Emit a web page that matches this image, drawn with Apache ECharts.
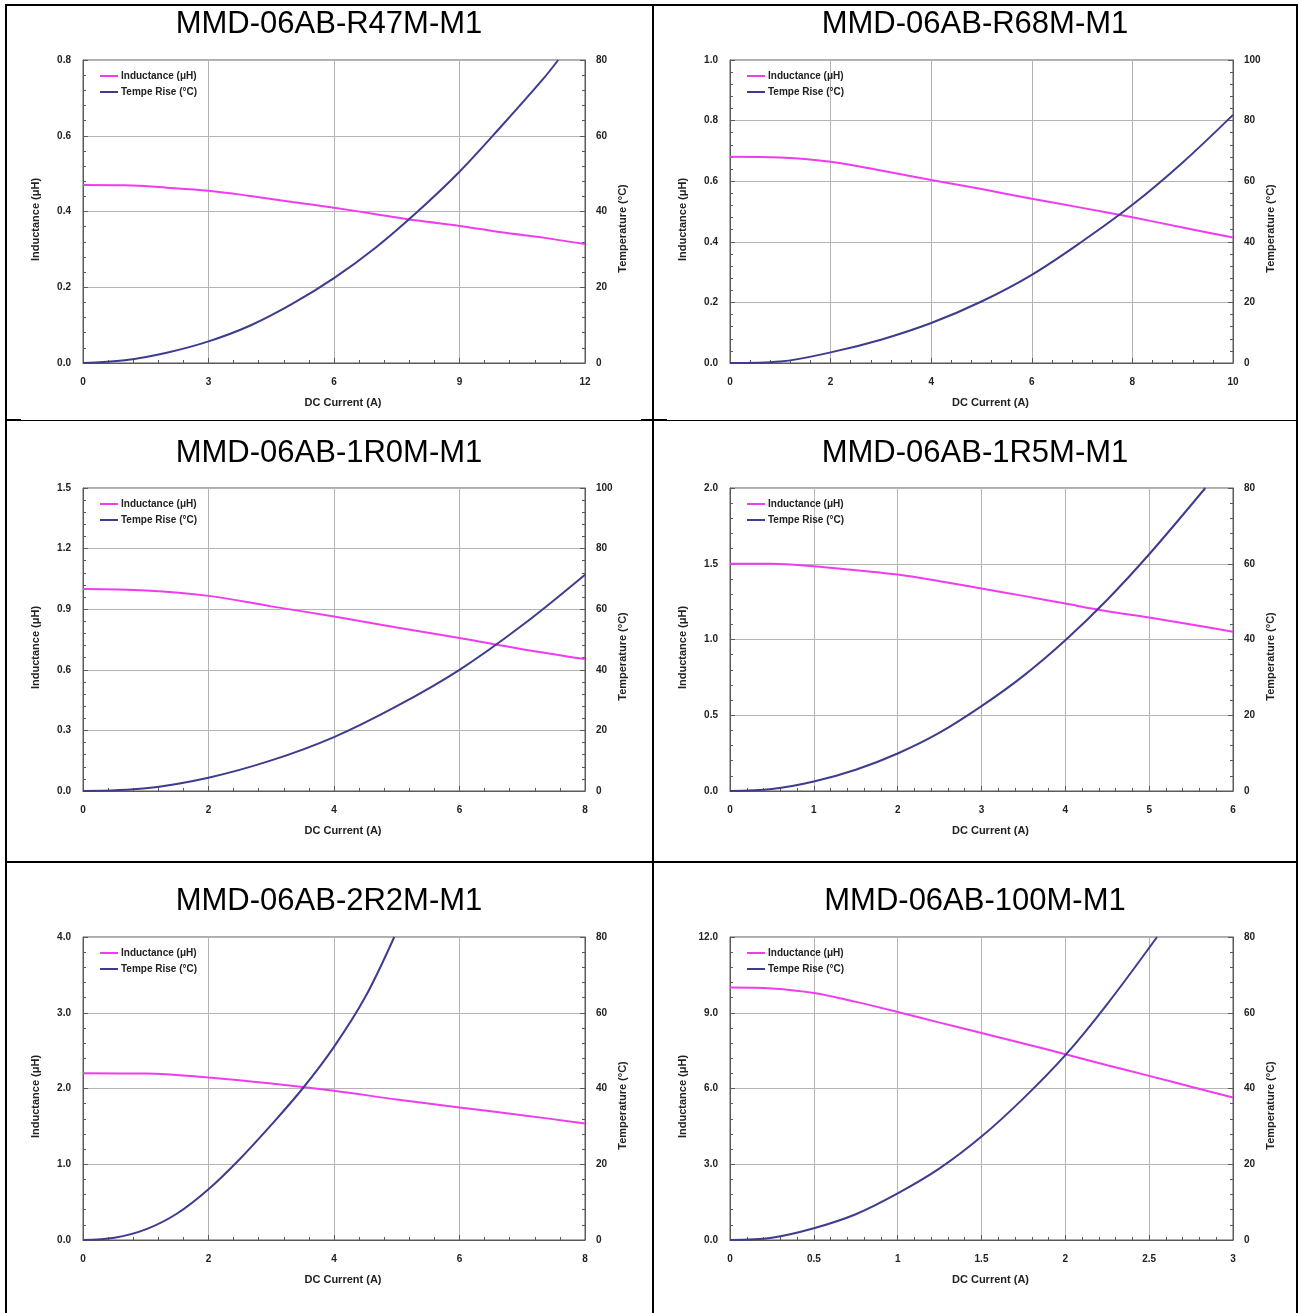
<!DOCTYPE html>
<html><head><meta charset="utf-8">
<script src="https://cdn.jsdelivr.net/npm/echarts@6/dist/echarts.min.js"></script>
<style>html,body{margin:0;padding:0;background:#fff}#c{width:1299px;height:1313px}</style>
</head><body><div id="c"></div>
<script>
// ---------- data ----------
const r47Current      = [0,1,2,3,4,5,6,7,8,9,10,11,12];
const r47Inductance   = [0.470,0.469,0.463,0.455,0.441,0.425,0.410,0.393,0.376,0.362,0.345,0.331,0.314];
const r47TempCurrent  = [0,1,2,3,4,5,6,7,8,9,10,11,11.36];
const r47Temp         = [0,0.7,2.7,5.7,9.9,15.6,22.4,30.5,40.0,50.5,62.5,75.0,80];

const r68Current      = [0,1,2,3,4,5,6,7,8,9,10];
const r68Inductance   = [0.681,0.678,0.664,0.635,0.604,0.574,0.542,0.512,0.481,0.447,0.414];
const r68TempCurrent  = [0,1,2,3,4,5,6,7,8,9,10];
const r68Temp         = [0,0.5,3.5,7.7,13.2,20.3,29.1,40.1,52.2,66.2,81.9];

const p1r0Current     = [0,1,2,3,4,5,6,7,8];
const p1r0Inductance  = [1.000,0.993,0.966,0.914,0.864,0.809,0.757,0.702,0.653];
const p1r0TempCurrent = [0,1,2,3,4,5,6,7,8];
const p1r0Temp        = [0,0.9,4.4,10.1,17.8,28.0,40.0,54.7,71.4];

const p1r5Current     = [0,0.5,1,1.5,2,2.5,3,3.5,4,4.5,5,5.5,6];
const p1r5Inductance  = [1.500,1.500,1.483,1.457,1.429,1.385,1.336,1.288,1.237,1.187,1.145,1.099,1.051];
const p1r5TempCurrent = [0,0.5,1,1.5,2,2.5,3,3.5,4,4.5,5,5.67];
const p1r5Temp        = [0,0.5,2.5,5.6,9.9,15.4,22.4,30.4,39.8,50.5,62.5,80];

const p2r2Current     = [0,1,2,3,4,5,6,7,8];
const p2r2Inductance  = [2.200,2.198,2.145,2.066,1.969,1.855,1.749,1.648,1.538];
const p2r2TempCurrent = [0,0.5,1,1.5,2,2.5,3,3.5,4,4.5,4.96];
const p2r2Temp        = [0,0.6,2.8,7.0,13.4,21.4,30.4,40.0,51.0,64.2,80];

const p100Current     = [0,0.25,0.5,0.75,1,1.25,1.5,1.75,2,2.25,2.5,2.75,3];
const p100Inductance  = [10.0,9.96,9.78,9.43,9.03,8.61,8.20,7.78,7.36,6.92,6.50,6.07,5.64];
const p100TempCurrent = [0,0.25,0.5,0.75,1,1.25,1.5,1.75,2,2.25,2.547];
const p100Temp        = [0,0.6,3.1,6.8,12.3,18.9,27.3,37.4,48.8,62.3,80];

const panelTitles = ['MMD-06AB-R47M-M1','MMD-06AB-R68M-M1','MMD-06AB-1R0M-M1','MMD-06AB-1R5M-M1','MMD-06AB-2R2M-M1','MMD-06AB-100M-M1'];
const xMaxes   = [12,10,8,6,8,3];
const xSteps   = [3,2,2,1,2,0.5];
const indMaxes = [0.8,1.0,1.5,2.0,4.0,12.0];
const indSteps = [0.2,0.2,0.3,0.5,1.0,3.0];
const tempMaxes= [80,100,100,80,80,80];
const tempSteps= [20,20,20,20,20,20];

const seriesNames = ['Inductance (\u03bcH)','Tempe Rise (\u00b0C)'];
const xName = 'DC Current (A)';
const yLeftName = 'Inductance (\u03bcH)';
const yRightName = 'Temperature (\u00b0C)';

const curData = [
  [r47Current, r47Inductance, r47TempCurrent, r47Temp],
  [r68Current, r68Inductance, r68TempCurrent, r68Temp],
  [p1r0Current, p1r0Inductance, p1r0TempCurrent, p1r0Temp],
  [p1r5Current, p1r5Inductance, p1r5TempCurrent, p1r5Temp],
  [p2r2Current, p2r2Inductance, p2r2TempCurrent, p2r2Temp],
  [p100Current, p100Inductance, p100TempCurrent, p100Temp]
];

// ---------- layout / style ----------
const FONT = "'Liberation Sans', Arial, sans-serif";
const IND_COLOR = '#f03cf0';
const TMP_COLOR = '#3e3c8e';
const AX_COLOR = '#5a5a5a';
const GRID_COLOR = '#b4b4b4';
const COLS = [{left:83, width:502, center:329}, {left:730, width:503, center:975}];
const ROWS = [{top:60, title:24}, {top:488, title:453}, {top:937, title:901}];
const PH = 303;

const zip = (a,b) => a.map((v,i)=>[v,b[i]]);
const labelStyle = {color:'#222', fontWeight:'bold', fontSize:10, fontFamily:FONT};
const nameStyle = {color:'#222', fontWeight:'bold', fontSize:11, fontFamily:FONT};

const option = {animation:false, backgroundColor:'#fff', title:[], legend:[], grid:[], xAxis:[], yAxis:[], series:[], graphic:[]};

panelTitles.forEach((t,i)=>{
  const c = COLS[i%2], r = ROWS[Math.floor(i/2)];
  const d = curData[i];
  option.title.push({text:t, left:c.center, top:r.title, textAlign:'center', textVerticalAlign:'middle', padding:0,
    textStyle:{fontSize:31, fontWeight:'normal', color:'#000', fontFamily:FONT}});
  option.grid.push({left:c.left, top:r.top, width:c.width, height:PH, show:true, borderColor:AX_COLOR, borderWidth:1, containLabel:false});
  option.legend.push({orient:'vertical', left:c.left+17, top:r.top+11, itemGap:6, itemWidth:18, itemHeight:2, icon:'rect',
    padding:0, selectedMode:false, textStyle:Object.assign({padding:[0,0,0,-2]}, labelStyle), data:seriesNames});
  const tick = {show:true, inside:true, length:5, lineStyle:{color:AX_COLOR}};
  const minor = {show:true, splitNumber:5, length:3, lineStyle:{color:AX_COLOR}};
  option.xAxis.push({gridIndex:i, type:'value', min:0, max:xMaxes[i], interval:xSteps[i],
    axisLine:{show:true, onZero:false, lineStyle:{color:AX_COLOR}}, axisTick:tick, minorTick:minor,
    splitLine:{show:true, lineStyle:{color:GRID_COLOR}}, axisLabel:Object.assign({margin:14}, labelStyle),
    name:xName, nameLocation:'middle', nameGap:34, nameTextStyle:Object.assign({padding:[0,0,0,18]}, nameStyle)});
  option.yAxis.push({gridIndex:i, type:'value', position:'left', min:0, max:indMaxes[i], interval:indSteps[i],
    axisLine:{show:true, onZero:false, lineStyle:{color:AX_COLOR}}, axisTick:tick, minorTick:minor,
    splitLine:{show:true, lineStyle:{color:GRID_COLOR}},
    axisLabel:Object.assign({margin:12, formatter:v=>v.toFixed(1)}, labelStyle),
    name:yLeftName, nameLocation:'middle', nameGap:42, nameTextStyle:Object.assign({padding:[0,16,0,0]}, nameStyle)});
  option.yAxis.push({gridIndex:i, type:'value', position:'right', min:0, max:tempMaxes[i], interval:tempSteps[i],
    axisLine:{show:true, onZero:false, lineStyle:{color:AX_COLOR}}, axisTick:tick, minorTick:minor,
    splitLine:{show:false}, axisLabel:Object.assign({margin:11}, labelStyle),
    name:yRightName, nameLocation:'middle', nameGap:32, nameTextStyle:Object.assign({padding:[0,34,0,0]}, nameStyle)});
  option.series.push({type:'line', name:seriesNames[0], xAxisIndex:i, yAxisIndex:2*i, data:zip(d[0],d[1]),
    smooth:0.35, symbol:'none', lineStyle:{color:IND_COLOR, width:2}, itemStyle:{color:IND_COLOR}});
  option.series.push({type:'line', name:seriesNames[1], xAxisIndex:i, yAxisIndex:2*i+1, data:zip(d[2],d[3]),
    smooth:0.35, symbol:'none', lineStyle:{color:TMP_COLOR, width:2}, itemStyle:{color:TMP_COLOR}});
});

// table frame
const rect = (x,y,w,h)=>({type:'rect', shape:{x:x,y:y,width:w,height:h}, style:{fill:'#000'}, silent:true});
option.graphic = [
  rect(5,4,1293,2),
  rect(5,4,2,1309),
  rect(1296,4,2,1309),
  rect(652,4,2,1309),
  rect(7,420,1289,1),
  rect(7,419,14,2),
  rect(641,419,26,2),
  rect(7,861,1289,2)
];

const chart = echarts.init(document.getElementById('c'), null, {renderer:'canvas'});
chart.setOption(option);
</script></body></html>
